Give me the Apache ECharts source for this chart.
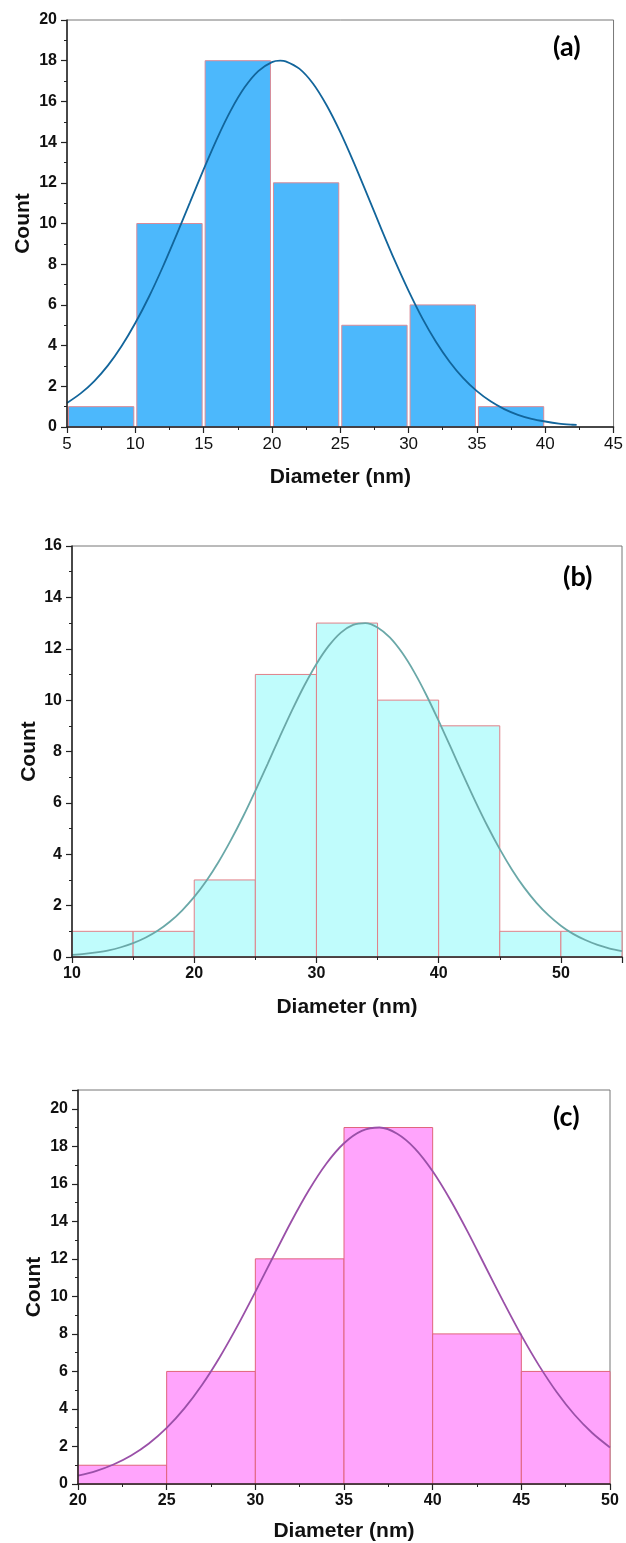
<!DOCTYPE html>
<html>
<head>
<meta charset="utf-8">
<script src="https://cdn.jsdelivr.net/npm/echarts@6/dist/echarts.min.js"></script>
<style>
  html, body { margin: 0; padding: 0; background: #fff; }
  #chart { width: 626px; height: 1543px; }
</style>
</head>
<body>
<div id="chart"></div>
<script>
// ---- Panel (a): particle size histogram ----
const binStartA = [5, 10, 15, 20, 25, 30, 35];
const countsA = [1, 10, 18, 12, 5, 6, 1];
const fitXA = [5, 6, 7, 8, 9, 10, 11, 12, 13, 14, 15, 16, 17, 18, 19, 20, 20.6, 21, 22, 23, 24, 25, 26, 27, 28, 29, 30, 31, 32, 33, 34, 35, 36, 37, 38, 39, 40, 41, 42, 42.3];
const fitYA = [1.18, 1.65, 2.26, 3.03, 3.98, 5.11, 6.40, 7.85, 9.42, 11.04, 12.66, 14.20, 15.57, 16.69, 17.49, 17.93, 18.00, 17.97, 17.61, 16.88, 15.81, 14.49, 12.98, 11.37, 9.74, 8.16, 6.69, 5.35, 4.19, 3.21, 2.40, 1.76, 1.26, 0.88, 0.60, 0.40, 0.27, 0.17, 0.11, 0.10];

// ---- Panel (b) ----
const binStartB = [10, 15, 20, 25, 30, 35, 40, 45, 50];
const countsB = [1, 1, 3, 11, 13, 10, 9, 1, 1];
const fitXB = [10, 11, 12, 13, 14, 15, 16, 17, 18, 19, 20, 21, 22, 23, 24, 25, 26, 27, 28, 29, 30, 31, 32, 33, 34, 35, 36, 37, 38, 39, 40, 41, 42, 43, 44, 45, 46, 47, 48, 49, 50, 51, 52, 53, 54, 55];
const fitYB = [0.08, 0.12, 0.18, 0.26, 0.38, 0.54, 0.75, 1.02, 1.37, 1.81, 2.34, 2.97, 3.71, 4.55, 5.47, 6.47, 7.51, 8.57, 9.60, 10.56, 11.41, 12.11, 12.63, 12.93, 13.00, 12.83, 12.44, 11.85, 11.09, 10.19, 9.19, 8.15, 7.09, 6.06, 5.09, 4.20, 3.40, 2.70, 2.11, 1.62, 1.22, 0.90, 0.66, 0.47, 0.33, 0.23];

// ---- Panel (c) ----
const binStartC = [20, 25, 30, 35, 40, 45];
const countsC = [1, 6, 12, 19, 8, 6];
const fitXC = [20, 21, 22, 23, 24, 25, 26, 27, 28, 29, 30, 31, 32, 33, 34, 35, 36, 37, 38, 39, 40, 41, 42, 43, 44, 45, 46, 47, 48, 49, 50];
const fitYC = [0.45, 0.69, 1.04, 1.52, 2.16, 2.99, 4.03, 5.29, 6.77, 8.44, 10.24, 12.10, 13.94, 15.63, 17.07, 18.16, 18.82, 19.00, 18.67, 17.88, 16.67, 15.14, 13.40, 11.54, 9.69, 7.92, 6.31, 4.89, 3.69, 2.72, 1.95];

const binWidth = 5;
const xTitle = 'Diameter (nm)';
const yTitle = 'Count';
const panelTags = ['(a)', '(b)', '(c)'];

const AX = 'Liberation Sans, Arial, sans-serif';

function histRenderer(fill, stroke, inset) {
  return function (params, api) {
    const x0 = api.value(0), x1 = api.value(1), y = api.value(2);
    const pTop = api.coord([x0, y]);
    const pBot = api.coord([x1, 0]);
    return {
      type: 'rect',
      shape: {
        x: pTop[0] + inset,
        y: pTop[1],
        width: pBot[0] - pTop[0] - 2 * inset,
        height: pBot[1] - pTop[1]
      },
      style: { fill: fill, stroke: stroke, lineWidth: 1 }
    };
  };
}

function histData(starts, counts) {
  return starts.map((s, i) => [s, s + binWidth, counts[i]]);
}

function xAxisFor(idx, min, max, interval, boldLabels, nameGap) {
  return {
    gridIndex: idx, type: 'value', min: min, max: max, interval: interval,
    z: 5,
    name: xTitle, nameLocation: 'middle', nameGap: nameGap,
    nameTextStyle: { fontFamily: AX, fontWeight: 'bold', fontSize: 21, color: '#111' },
    axisLine: { show: true, onZero: false, lineStyle: { color: '#222', width: 1.5 } },
    axisTick: { show: true, inside: false, length: 6, lineStyle: { color: '#222', width: 1.2 } },
    minorTick: { show: true, splitNumber: 2, length: 3, lineStyle: { color: '#222', width: 1 } },
    splitLine: { show: false },
    axisLabel: {
      margin: 9, fontFamily: AX, fontSize: boldLabels ? 16 : 17, color: '#111',
      fontWeight: boldLabels ? 'bold' : 'normal',
      showMaxLabel: (max % interval === 0),
      showMinLabel: true
    }
  };
}

function yAxisFor(idx, max, nameGap) {
  return {
    gridIndex: idx, type: 'value', min: 0, max: max, interval: 2,
    z: 5,
    name: yTitle, nameLocation: 'middle', nameGap: nameGap, nameRotate: 90,
    nameMoveOverlap: false,
    nameTextStyle: { fontFamily: AX, fontWeight: 'bold', fontSize: 21, color: '#111' },
    axisLine: { show: true, onZero: false, lineStyle: { color: '#222', width: 1.5 } },
    axisTick: { show: true, inside: false, length: 6, lineStyle: { color: '#222', width: 1.2 } },
    minorTick: { show: true, splitNumber: 2, length: 3, lineStyle: { color: '#222', width: 1 } },
    splitLine: { show: false },
    axisLabel: {
      margin: 10, fontFamily: AX, fontSize: 16, fontWeight: 'bold', color: '#111',
      showMaxLabel: (max % 2 === 0)
    }
  };
}

function fitLine(idx, xs, ys, color) {
  return {
    type: 'line', xAxisIndex: idx, yAxisIndex: idx,
    data: xs.map((x, i) => [x, ys[i]]),
    smooth: 0.3, showSymbol: false, symbol: 'none', z: 4,
    lineStyle: { color: color, width: 1.8 },
    silent: true
  };
}

function tag(text, left, top) {
  return {
    text: text, left: left, top: top,
    textStyle: { fontFamily: 'Lato, "Open Sans", sans-serif', fontWeight: 'bold', fontSize: 27, color: '#000' }
  };
}

const chart = echarts.init(document.getElementById('chart'), null, { renderer: 'canvas' });

chart.setOption({
  animation: false,
  backgroundColor: '#fff',
  title: [tag(panelTags[0], 548, 29), tag(panelTags[1], 558, 559), tag(panelTags[2], 548, 1099)],
  grid: [
    { left: 67, top: 20, width: 548, height: 407, show: true, borderColor: '#777', borderWidth: 1, backgroundColor: 'transparent' },
    { left: 72, top: 546, width: 550, height: 411, show: true, borderColor: '#777', borderWidth: 1, backgroundColor: 'transparent' },
    { left: 78, top: 1090, width: 532, height: 394, show: true, borderColor: '#777', borderWidth: 1, backgroundColor: 'transparent' }
  ],
  xAxis: [
    xAxisFor(0, 5, 45, 5, false, 40),
    xAxisFor(1, 10, 55, 10, true, 40),
    xAxisFor(2, 20, 50, 5, true, 37)
  ],
  yAxis: [
    yAxisFor(0, 20, 33),
    yAxisFor(1, 16, 32),
    yAxisFor(2, 21, 33)
  ],
  series: [
    {
      type: 'custom', xAxisIndex: 0, yAxisIndex: 0, z: 2,
      renderItem: histRenderer('#4cb8fc', '#d88a98', 1.5),
      encode: { x: [0, 1], y: 2 },
      data: histData(binStartA, countsA)
    },
    fitLine(0, fitXA, fitYA, '#12659b'),
    {
      type: 'custom', xAxisIndex: 1, yAxisIndex: 1, z: 2,
      renderItem: histRenderer('#c0fcfc', '#e08088', 0),
      encode: { x: [0, 1], y: 2 },
      data: histData(binStartB, countsB)
    },
    fitLine(1, fitXB, fitYB, '#6aa8a8'),
    {
      type: 'custom', xAxisIndex: 2, yAxisIndex: 2, z: 2,
      renderItem: histRenderer('#ffa4fc', '#e0647c', 0),
      encode: { x: [0, 1], y: 2 },
      data: histData(binStartC, countsC)
    },
    fitLine(2, fitXC, fitYC, '#9a50a8')
  ]
});
</script>
</body>
</html>
